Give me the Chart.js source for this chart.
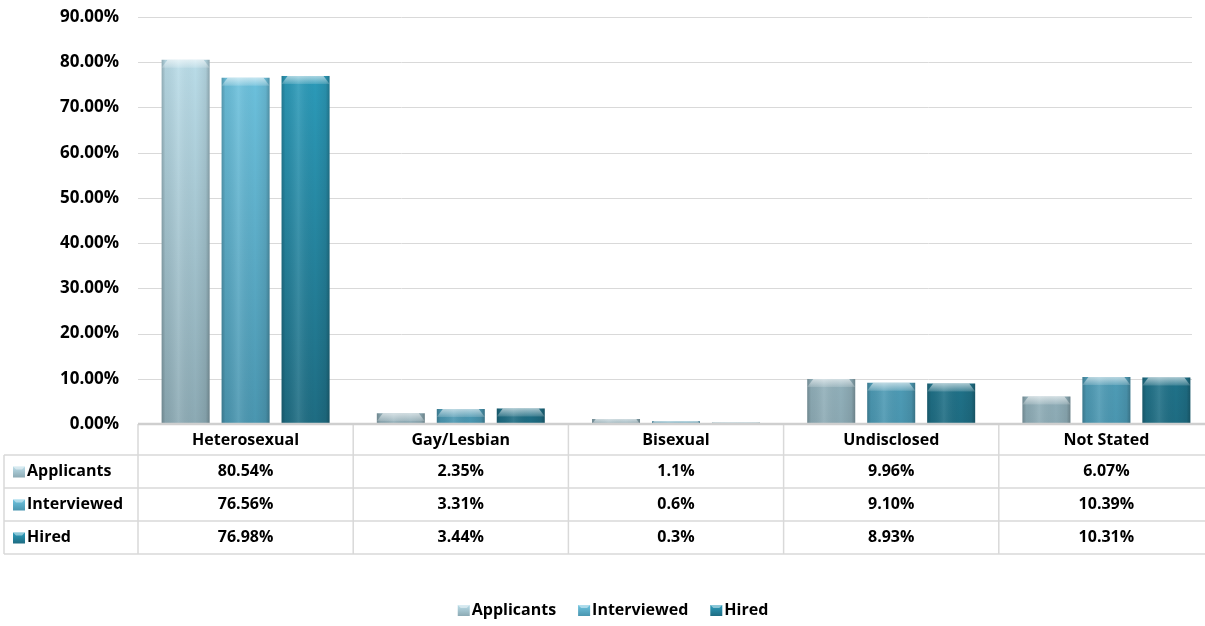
<!DOCTYPE html>
<html>
<head>
<meta charset="utf-8">
<script src="https://cdn.jsdelivr.net/npm/chart.js@4/dist/chart.umd.min.js"></script>
<style>
  html, body { margin: 0; padding: 0; background: #ffffff; overflow: hidden; }
  #wrap { width: 1225px; height: 626px; }
</style>
</head>
<body>
<div id="wrap"><canvas id="c" width="1225" height="626"></canvas></div>
<script>
// Response categories
const categories = ['Heterosexual', 'Gay/Lesbian', 'Bisexual', 'Undisclosed', 'Not Stated'];

// Percentages per stage, as printed in the table
const applicants  = ['80.54', '2.35', '1.1', '9.96', '6.07'];
const interviewed = ['76.56', '3.31', '0.6', '9.10', '10.39'];
const hired       = ['76.98', '3.44', '0.3', '8.93', '10.31'];

const seriesNames = ['Applicants', 'Interviewed', 'Hired'];

// Y axis ticks
const yTicks = [0, 10, 20, 30, 40, 50, 60, 70, 80, 90];

const FONT = '"Open Sans", Lato, "Liberation Sans", sans-serif';

// top / bottom / mid colours for each series
const palette = [
  { top: '#bfe2ee', bottom: '#8caab4', key: '#a5c3cf' },
  { top: '#72c8e4', bottom: '#4a96b0', key: '#5ab6d6' },
  { top: '#2ea2c2', bottom: '#1e6c82', key: '#2a8cab' }
];

function verticalFill(idx) {
  return function (ctx) {
    const area = ctx.chart.chartArea;
    if (!area) return palette[idx].key;
    const g = ctx.chart.ctx.createLinearGradient(0, area.top, 0, area.bottom);
    g.addColorStop(0, palette[idx].top);
    g.addColorStop(1, palette[idx].bottom);
    return g;
  };
}

function swatch(ctx, si, x, cy) {
  const g = ctx.createLinearGradient(0, cy - 6, 0, cy + 6);
  g.addColorStop(0, palette[si].top);
  g.addColorStop(1, palette[si].bottom);
  ctx.fillStyle = g;
  ctx.fillRect(x, cy - 5, 12, 11);
  ctx.fillStyle = 'rgba(255,255,255,0.45)';
  ctx.beginPath();
  ctx.moveTo(x, cy - 5);
  ctx.lineTo(x + 12, cy - 5);
  ctx.lineTo(x + 9, cy - 2);
  ctx.lineTo(x + 3, cy - 2);
  ctx.closePath();
  ctx.fill();
}

const seriesData = [applicants, interviewed, hired];

// Horizontal gridlines (stop a little short of the right edge)
const gridPlugin = {
  id: 'grid',
  beforeDatasetsDraw(chart) {
    const { ctx, chartArea } = chart;
    const y = chart.scales.y;
    ctx.save();
    ctx.strokeStyle = '#d9d9d9';
    ctx.lineWidth = 1;
    yTicks.forEach(v => {
      if (v === 0) return;
      const py = Math.round(y.getPixelForValue(v)) + 0.5;
      ctx.beginPath();
      ctx.moveTo(chartArea.left, py);
      ctx.lineTo(chartArea.right - 22, py);
      ctx.stroke();
    });
    ctx.restore();
  }
};

// Bevelled tops and side shading on each bar
const bevelPlugin = {
  id: 'bevel',
  afterDatasetsDraw(chart) {
    const ctx = chart.ctx;
    chart.data.datasets.forEach((ds, di) => {
      const meta = chart.getDatasetMeta(di);
      meta.data.forEach(bar => {
        const w = bar.width;
        const l = bar.x - w / 2, r = bar.x + w / 2;
        const top = bar.y, base = bar.base;
        const h = base - top;
        if (h <= 0) return;
        ctx.save();
        // side shading
        const hg = ctx.createLinearGradient(l, 0, r, 0);
        hg.addColorStop(0, 'rgba(0,0,0,0.22)');
        hg.addColorStop(0.08, 'rgba(0,0,0,0.05)');
        hg.addColorStop(0.35, 'rgba(255,255,255,0.10)');
        hg.addColorStop(0.7, 'rgba(0,0,0,0)');
        hg.addColorStop(0.92, 'rgba(0,0,0,0.08)');
        hg.addColorStop(1, 'rgba(0,0,0,0.25)');
        ctx.fillStyle = hg;
        ctx.fillRect(l, top, w, h);
        // chamfered top
        const b = Math.min(8, h);
        const inset = Math.min(6, b * 0.75);
        const tg = ctx.createLinearGradient(0, top, 0, top + b);
        tg.addColorStop(0, 'rgba(255,255,255,0.6)');
        tg.addColorStop(1, 'rgba(255,255,255,0.15)');
        ctx.fillStyle = tg;
        ctx.beginPath();
        ctx.moveTo(l, top + b);
        ctx.lineTo(l + inset, top);
        ctx.lineTo(r - inset, top);
        ctx.lineTo(r, top + b);
        ctx.closePath();
        ctx.fill();
        ctx.restore();
      });
    });
  }
};

// Data table under the plot, aligned to the category axis, plus the key
const tablePlugin = {
  id: 'dataTable',
  afterDraw(chart) {
    const { ctx, chartArea } = chart;
    const x = chart.scales.x;
    const y0 = chartArea.bottom;
    const rowH = [31, 33, 33, 33];
    const rowTop = [y0];
    rowH.forEach((h, i) => rowTop.push(rowTop[i] + h));
    const yEnd = rowTop[rowTop.length - 1];
    const tableLeft = 4;
    const right = chart.width;

    const bounds = [chartArea.left];
    for (let i = 0; i < categories.length - 1; i++) {
      bounds.push((x.getPixelForValue(i) + x.getPixelForValue(i + 1)) / 2);
    }
    bounds.push(chartArea.right);

    ctx.save();
    ctx.strokeStyle = '#d9d9d9';
    ctx.lineWidth = 1.5;
    for (let i = 1; i < rowTop.length; i++) {
      ctx.beginPath();
      ctx.moveTo(tableLeft, rowTop[i]);
      ctx.lineTo(right, rowTop[i]);
      ctx.stroke();
    }
    bounds.forEach((bx, i) => {
      if (i === bounds.length - 1) return;
      ctx.beginPath();
      ctx.moveTo(bx, y0);
      ctx.lineTo(bx, yEnd);
      ctx.stroke();
    });
    ctx.beginPath();
    ctx.moveTo(tableLeft, rowTop[1]);
    ctx.lineTo(tableLeft, yEnd);
    ctx.stroke();
    // axis line
    ctx.strokeStyle = '#cfcfcf';
    ctx.lineWidth = 2.5;
    ctx.beginPath();
    ctx.moveTo(chartArea.left, y0);
    ctx.lineTo(right, y0);
    ctx.stroke();

    ctx.fillStyle = '#000000';
    ctx.font = 'bold 16px ' + FONT;
    ctx.textBaseline = 'middle';
    ctx.textAlign = 'center';
    categories.forEach((c, i) => {
      ctx.fillText(c, x.getPixelForValue(i), rowTop[0] + rowH[0] / 2 + 1);
    });
    seriesNames.forEach((name, si) => {
      const cy = rowTop[si + 1] + rowH[si + 1] / 2;
      swatch(ctx, si, 13, cy);
      ctx.fillStyle = '#000000';
      ctx.textAlign = 'left';
      ctx.fillText(name, 27, cy);
      ctx.textAlign = 'center';
      seriesData[si].forEach((v, ci) => {
        ctx.fillText(v + '%', x.getPixelForValue(ci), cy);
      });
    });

    // key, centred below the table
    const legendY = 610;
    const gap = 22;
    ctx.textAlign = 'left';
    const widths = seriesNames.map(n => 14 + ctx.measureText(n).width);
    const total = widths.reduce((a, b) => a + b, 0) + gap * (seriesNames.length - 1);
    let lx = 613 - total / 2;
    seriesNames.forEach((n, si) => {
      swatch(ctx, si, lx, legendY);
      ctx.fillStyle = '#000000';
      ctx.fillText(n, lx + 14, legendY);
      lx += widths[si] + gap;
    });
    ctx.restore();
  }
};

new Chart(document.getElementById('c'), {
  type: 'bar',
  data: {
    labels: categories,
    datasets: seriesData.map((arr, i) => ({
      label: seriesNames[i],
      data: arr.map(parseFloat),
      backgroundColor: verticalFill(i),
      borderWidth: 0,
      barPercentage: 0.8,
      categoryPercentage: 0.836
    }))
  },
  options: {
    responsive: false,
    animation: false,
    layout: { padding: { top: 17, right: 11, left: 0, bottom: 0 } },
    scales: {
      x: {
        grid: { display: false },
        border: { display: false },
        ticks: { display: false },
        afterFit(scale) { scale.height = 202; }
      },
      y: {
        min: 0,
        max: 90,
        afterBuildTicks(scale) { scale.ticks = yTicks.map(v => ({ value: v })); },
        grid: { display: false, drawTicks: false },
        border: { display: false },
        ticks: {
          padding: 19,
          color: '#000000',
          font: { family: FONT, size: 17, weight: 'bold' },
          callback: v => v.toFixed(2) + '%'
        },
        afterFit(scale) {
          scale.width = 138;
          scale.paddingTop = 10;
          scale.paddingBottom = 10;
        }
      }
    },
    plugins: {
      tooltip: { enabled: false },
      legend: { display: false }
    }
  },
  plugins: [gridPlugin, bevelPlugin, tablePlugin]
});
</script>
</body>
</html>
